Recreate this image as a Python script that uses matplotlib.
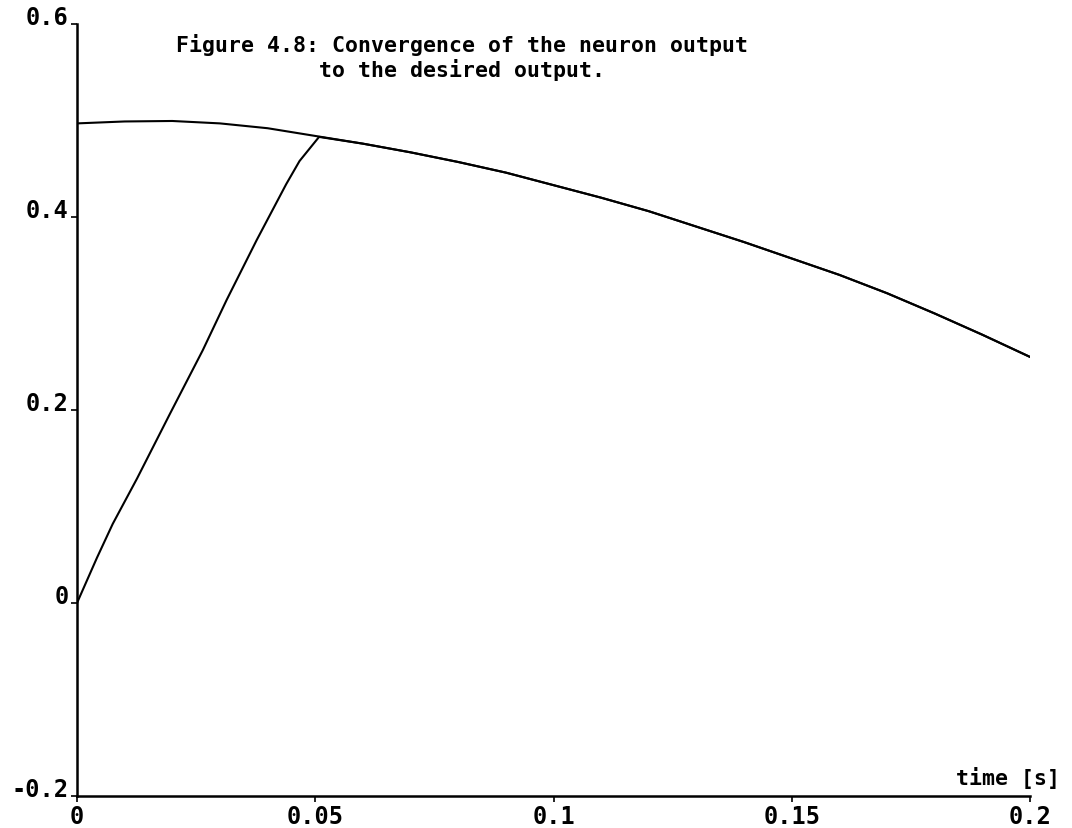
import matplotlib
matplotlib.use("Agg")
import matplotlib.pyplot as plt

# Desired output
t_desired = [0.0, 0.01, 0.02, 0.03, 0.04, 0.05, 0.06, 0.07, 0.08, 0.09, 0.10,
             0.11, 0.12, 0.13, 0.14, 0.15, 0.16, 0.17, 0.18, 0.19, 0.20]
y_desired = [0.497, 0.499, 0.4995, 0.497, 0.492, 0.484, 0.476, 0.467, 0.457, 0.446, 0.433,
             0.420, 0.406, 0.390, 0.374, 0.357, 0.340, 0.321, 0.300, 0.278, 0.255]

# Neuron output: rising part, then following the desired output
t_neuron = [0.0, 0.0042, 0.0075, 0.0126, 0.0195, 0.0264, 0.0314, 0.0377, 0.0439, 0.0467, 0.0508,
            0.06, 0.07, 0.08, 0.09, 0.10, 0.11, 0.12, 0.13, 0.14, 0.15, 0.16, 0.17, 0.18, 0.19, 0.20]
y_neuron = [0.0, 0.047, 0.082, 0.129, 0.196, 0.262, 0.314, 0.376, 0.434, 0.458, 0.483,
            0.476, 0.467, 0.457, 0.446, 0.433, 0.420, 0.406, 0.390, 0.374, 0.357, 0.340, 0.321, 0.300, 0.278, 0.255]

x_ticks = [0, 0.05, 0.1, 0.15, 0.2]
x_ticklabels = ["0", "0.05", "0.1", "0.15", "0.2"]
y_ticks = [-0.2, 0, 0.2, 0.4, 0.6]
y_ticklabels = ["-0.2", "0", "0.2", "0.4", "0.6"]

title_lines = ["Figure 4.8: Convergence of the neuron output", "to the desired output."]
x_label = "time [s]"

plt.rcParams['font.family'] = ['DejaVu Sans Mono']
plt.rcParams['font.weight'] = 'bold'

fig = plt.figure(figsize=(10.72, 8.29), dpi=100)
ax = fig.add_axes([77/1072, 1 - 797/829, (1030 - 77)/1072, (797 - 25)/829])

ax.plot(t_desired, y_desired, color='black', lw=1.5)
ax.plot(t_neuron, y_neuron, color='black', lw=1.5)

ax.set_xlim(0, 0.2)
ax.set_ylim(-0.2, 0.6)
for s in ['top', 'right']:
    ax.spines[s].set_visible(False)
for s in ['left', 'bottom']:
    ax.spines[s].set_linewidth(1.8)

ax.set_xticks(x_ticks)
ax.set_xticklabels(x_ticklabels, fontsize=17, fontweight='bold')
ax.set_yticks(y_ticks)
ax.set_yticklabels(y_ticklabels, fontsize=17, fontweight='bold')
ax.tick_params(axis='both', direction='out', length=4, width=1.2, pad=2)
for lbl in ax.get_yticklabels():
    lbl.set_va('baseline')

fig.text(462/1072, 1 - 45/829, title_lines[0], ha='center', va='center',
         fontsize=15.5, fontweight='bold')
fig.text(462/1072, 1 - 70/829, title_lines[1], ha='center', va='center',
         fontsize=15.5, fontweight='bold')
fig.text(1060/1072, 1 - 778/829, x_label, ha='right', va='center',
         fontsize=15.5, fontweight='bold')

fig.savefig("out.png", dpi=100, facecolor='white')
